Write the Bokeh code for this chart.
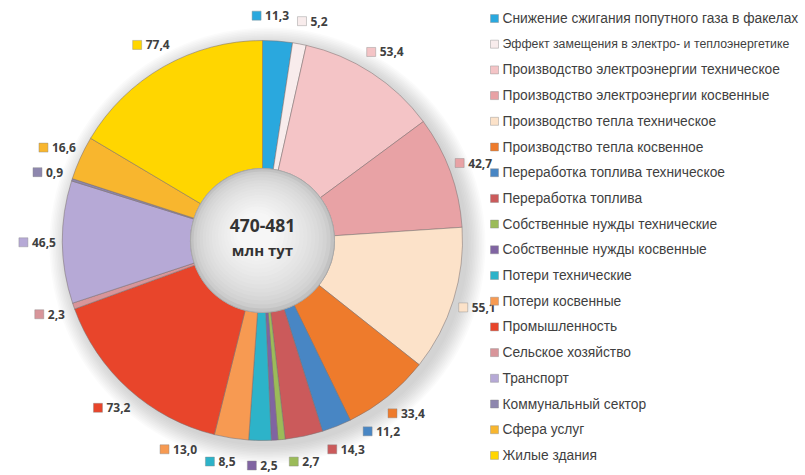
import numpy as np
from bokeh.plotting import figure
from bokeh.models import Range1d, ColumnDataSource
from bokeh.core.properties import value
from bokeh.embed import file_html
from bokeh.resources import INLINE

# ---------------- data ----------------
categories = [
    "Снижение сжигания попутного газа в факелах",
    "Эффект замещения в электро-  и теплоэнергетике",
    "Производство электроэнергии техническое",
    "Производство электроэнергии косвенные",
    "Производство тепла техническое",
    "Производство тепла косвенное",
    "Переработка топлива техническое",
    "Переработка топлива",
    "Собственные нужды технические",
    "Собственные нужды косвенные",
    "Потери  технические",
    "Потери  косвенные",
    "Промышленность",
    "Сельское хозяйство",
    "Транспорт",
    "Коммунальный сектор",
    "Сфера услуг",
    "Жилые здания",
]
values = [11.3, 5.2, 53.4, 42.7, 55.1, 33.4, 11.2, 14.3, 2.7, 2.5,
          8.5, 13.0, 73.2, 2.3, 46.5, 0.9, 16.6, 77.4]
labels = [f"{v:.1f}".replace(".", ",") for v in values]
colors = ["#2AA8DE", "#F8ECEC", "#F4C4C6", "#E8A2A5", "#FCE2C9", "#EE7B2C",
          "#4886C4", "#CB5A5B", "#9BBB59", "#8064A2", "#2DB3C9", "#F79A52",
          "#E8452B", "#D8959A", "#B6A9D6", "#8E87AE", "#F8B62E", "#FFD600"]
center_title = "470-481"
center_unit = "млн тут"

# ---------------- layout (screen-pixel coordinates) ----------------
W, H = 805, 475
def sy(screen_y):           # screen y -> data y
    return H - screen_y

CX, CY = 262, sy(240)
R_OUT, R_IN = 200, 72
R_LAB = 225

p = figure(width=W, height=H, x_range=Range1d(0, W), y_range=Range1d(0, H),
           min_border=0, output_backend="svg", toolbar_location=None)
p.axis.visible = False
p.grid.visible = False
p.outline_line_color = None
p.background_fill_color = "white"
p.border_fill_color = "white"

# soft shadow behind the ring
for k in range(12):
    p.circle(x=CX + 5, y=CY - 5, radius=R_OUT + 18 - k * 1.6,
             fill_color="#808080", fill_alpha=0.03, line_color=None)

vals = np.array(values)
tot = vals.sum()
cum = np.concatenate([[0], np.cumsum(vals)])
th0 = cum[:-1] / tot * 2 * np.pi           # clockwise from top
th1 = cum[1:] / tot * 2 * np.pi
src = ColumnDataSource(dict(start=np.pi / 2 - th1, end=np.pi / 2 - th0, color=colors))
p.annular_wedge(x=CX, y=CY, inner_radius=R_IN, outer_radius=R_OUT,
                start_angle="start", end_angle="end", fill_color="color",
                line_color="#7A6F6F", line_width=0.7, line_alpha=0.75, source=src)

# centre "sphere"
n = 16
for k in range(n):
    t = k / (n - 1)
    r = R_IN * (1 - 0.72 * t)
    g = int(194 + (246 - 194) * t ** 0.55)
    p.circle(x=CX - 6 * t, y=CY + 8 * t, radius=r,
             fill_color=f"#{g:02x}{g:02x}{g:02x}", line_color=None)
p.circle(x=CX, y=CY, radius=R_IN, fill_color=None, line_color="#AAAAAA", line_width=1)

p.text(x=[CX], y=[sy(225)], text=[center_title], text_font=value("Open Sans"),
       text_font_style="bold", text_font_size="17.5px", text_color="#333333",
       text_align="center", text_baseline="middle")
p.text(x=[CX], y=[sy(249)], text=[center_unit], text_font=value("Open Sans"),
       text_font_style="bold", text_font_size="15px", text_color="#333333",
       text_align="center", text_baseline="middle")

# ---------------- data labels: radial, spread to avoid overlaps ----------------
mids = np.degrees((th0 + th1) / 2)
ang = mids.copy()
LW, LH = 42.0, 18.0

def gap_deg(a):
    a = np.radians(a)
    c, s = abs(np.cos(a)), abs(np.sin(a))
    need = min(LW / max(c, 1e-6), LH / max(s, 1e-6))
    return np.degrees(need / R_LAB)

for _ in range(600):
    for i in range(len(ang) - 1):
        a, b = ang[i], ang[i + 1]
        g = gap_deg((a + b) / 2)
        if b - a < g:
            d = (g - (b - a)) / 2
            ang[i] -= d
            ang[i + 1] += d

ar = np.radians(ang)
ax_ = CX + R_LAB * np.sin(ar)
ay_ = CY + R_LAB * np.cos(ar)
tw = np.array([6.9 * (len(l) - 1) + 3.5 for l in labels])
tot_w = 9 + 4 + tw
left = ax_ - tot_w / 2
p.scatter(x=left + 4.5, y=ay_, marker="square", size=9, fill_color=colors,
          line_color="#8A8A8A", line_width=0.6, line_alpha=0.7)
p.text(x=left + 13, y=ay_, text=labels, text_font=value("Open Sans"),
       text_font_style="bold", text_font_size="12px", text_color="#404040",
       text_align="left", text_baseline="middle")

# ---------------- legend ----------------
ly = np.array([sy(18 + i * 25.7) for i in range(len(categories))])
fs = ["13.8px"] * len(categories)
fs[1] = "12.3px"
p.scatter(x=[494] * len(categories), y=ly, marker="square", size=8, fill_color=colors,
          line_color="#8A8A8A", line_width=0.6, line_alpha=0.7)
lsrc = ColumnDataSource(dict(x=[502] * len(categories), y=ly, t=categories, fs=fs))
p.text(x="x", y="y", text="t", text_font=value("Liberation Sans"), text_font_size="fs",
       text_color="#3F3F3F", text_align="left", text_baseline="middle", source=lsrc)

open("out.html", "w").write(file_html(p, INLINE))
